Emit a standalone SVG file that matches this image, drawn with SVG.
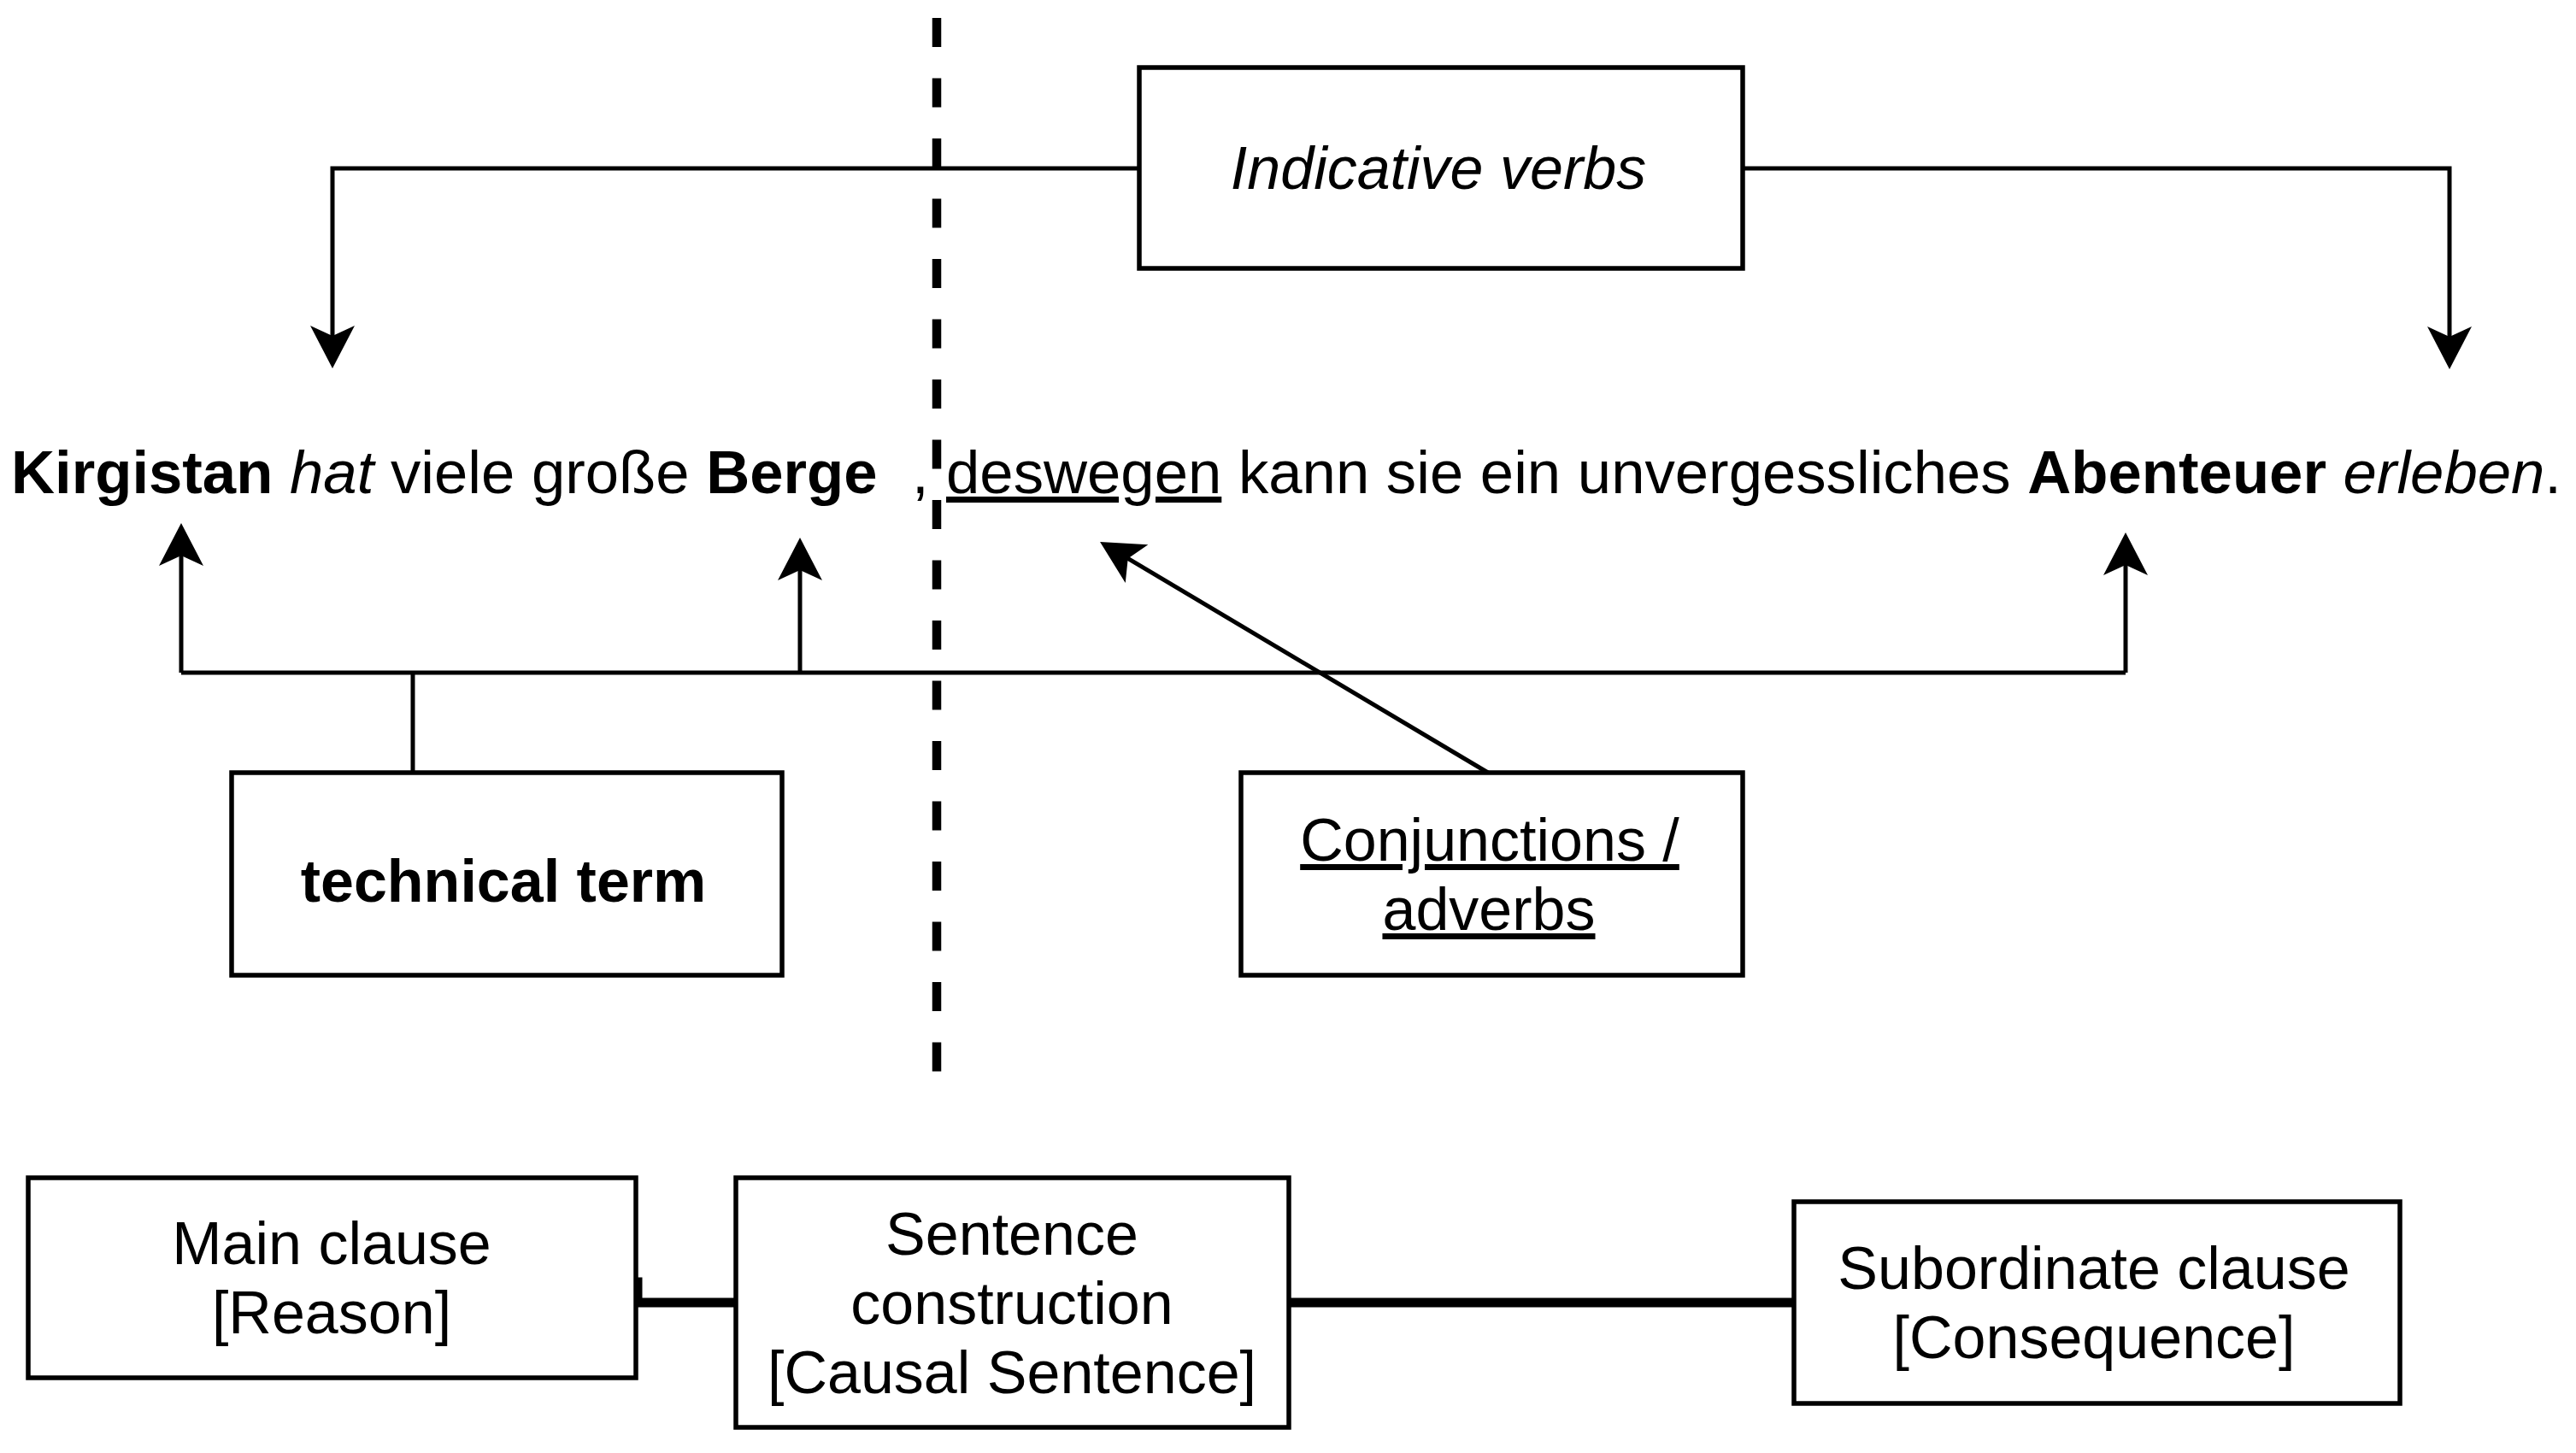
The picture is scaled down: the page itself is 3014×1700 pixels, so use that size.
<svg xmlns="http://www.w3.org/2000/svg" width="3014" height="1700" viewBox="0 0 3014 1700">
<style>
text{font-family:"Liberation Sans",Arial,Helvetica,sans-serif;font-size:70px;fill:#000}
.box{fill:#fff;stroke:#000;stroke-width:5.5}
.edge{fill:none;stroke:#000;stroke-width:5}
.thick{fill:none;stroke:#000;stroke-width:11}
.mid{text-anchor:middle}
</style>
<defs>
<marker id="arr" viewBox="-52 -28 54 56" refX="-36" refY="0" markerWidth="54" markerHeight="56" markerUnits="userSpaceOnUse" orient="auto">
<path d="M0,0 L-50,-26 L-38,0 L-50,26 Z" fill="#000"/>
</marker>
</defs>
<rect width="3014" height="1700" fill="#fff"/>

<g id="divider">
<line x1="1096" y1="21" x2="1096" y2="1256" stroke="#000" stroke-width="10.5" stroke-dasharray="34 36.5"/>
</g>

<g id="connectors">
<path class="edge" d="M1333,197 H389 V395" marker-end="url(#arr)"/>
<path class="edge" d="M2039,197 H2866 V396" marker-end="url(#arr)"/>
<path class="edge" d="M483,904 V787"/>
<path class="edge" d="M212,787 H2487"/>
<path class="edge" d="M212,787 V648" marker-end="url(#arr)"/>
<path class="edge" d="M936,787 V665" marker-end="url(#arr)"/>
<path class="edge" d="M2487,787 V659" marker-end="url(#arr)"/>
<path class="edge" d="M1741,904 L1318,652.4" marker-end="url(#arr)"/>
<path class="thick" d="M743,1500 H746 V1524 H861"/>
<path class="thick" d="M1508,1524 H2099"/>
</g>

<g id="sentence">
<text y="577" style="font-size:70.7px"><tspan x="13" font-weight="bold">Kirgistan</tspan> <tspan font-style="italic">hat</tspan> viele große <tspan font-weight="bold">Berge</tspan><tspan x="1067">,</tspan><tspan x="1107" text-decoration="underline">deswegen</tspan> kann sie ein unvergessliches <tspan font-weight="bold">Abenteuer</tspan> <tspan font-style="italic">erleben</tspan>.</text>
</g>

<g id="indicative-verbs">
<rect class="box" x="1333" y="79" width="706" height="235"/>
<text class="mid" x="1683" y="221" font-style="italic">Indicative verbs</text>
</g>

<g id="technical-term">
<rect class="box" x="271" y="904" width="644" height="237"/>
<text class="mid" x="589" y="1055" font-weight="bold">technical term</text>
</g>

<g id="conjunctions">
<rect class="box" x="1452" y="904" width="587" height="237"/>
<text class="mid" text-decoration="underline"><tspan x="1743" y="1007">Conjunctions /</tspan><tspan x="1742" y="1088">adverbs</tspan></text>
</g>

<g id="main-clause">
<rect class="box" x="33" y="1378" width="711" height="234"/>
<text class="mid"><tspan x="388" y="1479">Main clause</tspan><tspan x="388" y="1560">[Reason]</tspan></text>
</g>

<g id="sentence-construction">
<rect class="box" x="861" y="1378" width="647" height="292"/>
<text class="mid"><tspan x="1184" y="1468">Sentence</tspan><tspan x="1184" y="1549">construction</tspan><tspan x="1184" y="1630">[Causal Sentence]</tspan></text>
</g>

<g id="subordinate-clause">
<rect class="box" x="2099" y="1406" width="709" height="236"/>
<text class="mid"><tspan x="2450" y="1508">Subordinate clause</tspan><tspan x="2450" y="1589">[Consequence]</tspan></text>
</g>
</svg>
